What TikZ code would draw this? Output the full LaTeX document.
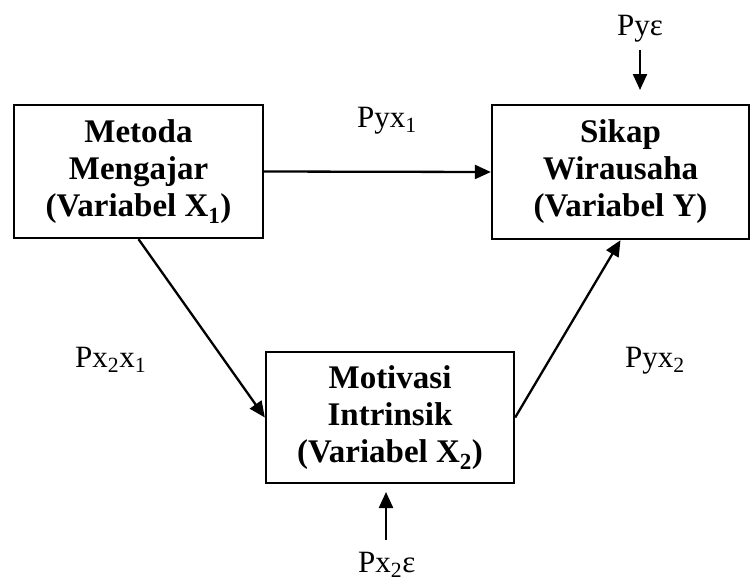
\documentclass[tikz,border=0pt]{standalone}
\usepackage{fontspec}
\setmainfont{Liberation Serif}
\usetikzlibrary{arrows.meta}
\begin{document}
\begin{tikzpicture}[x=1pt,y=-1pt,
  box/.style={draw,line width=2.3pt,align=center,inner sep=0pt,
    font=\fontsize{33}{37}\selectfont\bfseries},
  lbl/.style={anchor=base west,inner sep=0pt,font=\fontsize{31}{36}\selectfont},
  arr/.style={line width=2.3pt,-{Triangle[length=16pt,width=14pt]}}]
\useasboundingbox (0,0) rectangle (751,581);
\node[box,minimum width=249pt,minimum height=133pt] (bx1) at (138.5,171.5)
  {Metoda\\Mengajar\\(Variabel X\textsubscript{1})};
\node[box,minimum width=257pt,minimum height=134pt] (by) at (620.5,172)
  {Sikap\\Wirausaha\\(Variabel Y)};
\node[box,minimum width=248pt,minimum height=131pt] (bx2) at (390,417.5)
  {Motivasi\\Intrinsik\\(Variabel X\textsubscript{2})};
\node[lbl] (pyx1) at (357,127) {Pyx\textsubscript{1}};
\node[lbl] (px2x1) at (75,367) {Px\textsubscript{2}x\textsubscript{1}};
\node[lbl] (pyx2) at (625,367) {Pyx\textsubscript{2}};
\node[lbl] (pye) at (617,35) {Pyε};
\node[lbl] (px2e) at (358,572) {Px\textsubscript{2}ε};
\coordinate (pyetail) at (640,50);
\coordinate (pyetip) at (640,90);
\coordinate (px2etail) at (386,540);
\coordinate (px2etip) at (386,492);
\draw[arr] (bx1.east) -- (by.west);
\draw[arr] (bx1.south) -- (bx2.west);
\draw[arr] (bx2.east) -- (by.south);
\draw[arr] (pyetail) -- (pyetip);
\draw[arr] (px2etail) -- (px2etip);
\end{tikzpicture}
\end{document}
